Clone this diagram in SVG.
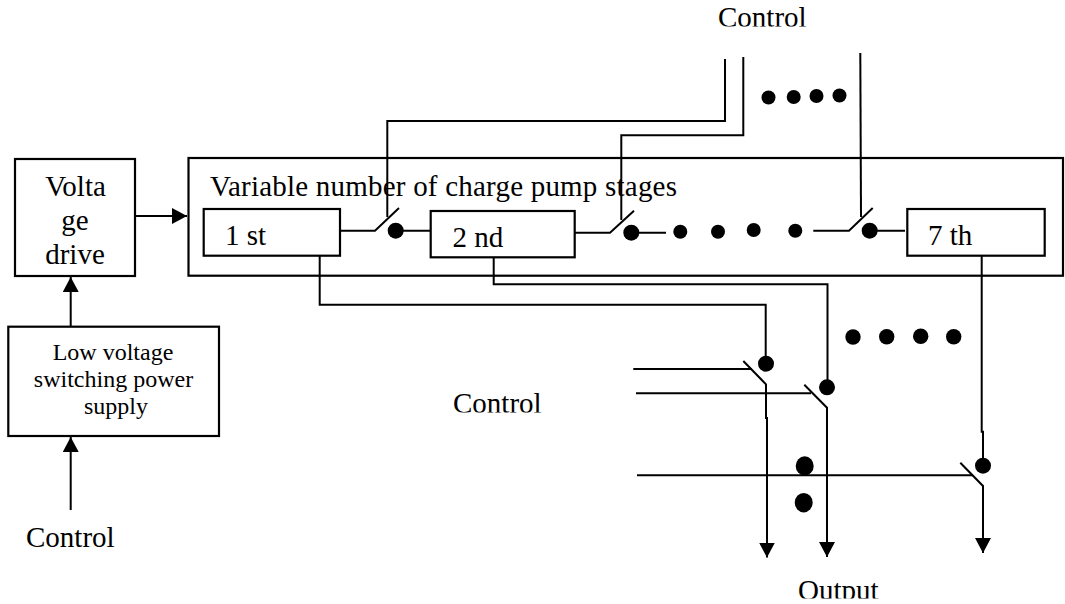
<svg xmlns="http://www.w3.org/2000/svg" width="1065" height="604" viewBox="0 0 1065 604">
<defs>
<marker id="a" markerUnits="userSpaceOnUse" markerWidth="16" markerHeight="16" refX="15" refY="8" orient="auto"><path d="M0 0L15 8L0 16Z" fill="#000"/></marker>
<clipPath id="c1"><rect x="700" y="0" width="130" height="26.5"/></clipPath>
<clipPath id="c2"><rect x="440" y="380" width="130" height="32.5"/></clipPath>
<clipPath id="c3"><rect x="790" y="570" width="100" height="28.5"/></clipPath>
</defs>
<style>
.b{fill:none;stroke:#000;stroke-width:2.2}
.l{fill:none;stroke:#000;stroke-width:2}
.d{fill:#000}
text{font-family:"Liberation Serif","Times New Roman",serif;fill:#000}
.t{font-size:29px}
.s{font-size:24px}
</style>
<rect width="1065" height="604" fill="#fff"/>
<g id="stages-box"><rect class="b" x="188.5" y="158" width="874.5" height="117.7"/><text class="t" x="210" y="196" textLength="467">Variable number of charge pump stages</text></g>
<g id="stage-1"><rect class="b" x="203.7" y="209" width="136.3" height="46.7"/><text class="t" x="225" y="244.500">1 st</text></g>
<g id="stage-2"><rect class="b" x="430.7" y="211" width="144" height="46.3"/><text class="t" x="452.5" y="246.5">2 nd</text></g>
<g id="stage-7"><rect class="b" x="907.3" y="209" width="137.4" height="46.7"/><text class="t" x="928" y="244.500">7 th</text></g>
<g id="voltage-drive"><rect class="b" x="15" y="159" width="120" height="117"/>
<text class="t" x="75.5" y="196" text-anchor="middle">Volta</text><text class="t" x="75" y="229.500" text-anchor="middle">ge</text><text class="t" x="75" y="264" text-anchor="middle">drive</text></g>
<g id="power-supply"><rect class="b" x="8.3" y="326.7" width="210.7" height="109.3"/>
<text class="s" x="113" y="359.500" text-anchor="middle">Low voltage</text><text class="s" x="113.500" y="387" text-anchor="middle">switching power</text><text class="s" x="116" y="414" text-anchor="middle">supply</text></g>
<g id="labels">
<text class="t" x="718" y="27" clip-path="url(#c1)">Control</text>
<text class="t" x="453" y="413" clip-path="url(#c2)">Control</text>
<text class="t" x="26" y="546.500">Control</text>
<text class="t" x="798" y="600" clip-path="url(#c3)">Output</text>
</g>
<g id="connectors">
<path class="l" d="M135 216H187" marker-end="url(#a)"/>
<path class="l" d="M70.7 326V277" marker-end="url(#a)"/>
<path class="l" d="M70.7 510V437" marker-end="url(#a)"/>
<path class="l" d="M725 59V121H387.3V217"/>
<path class="l" d="M743.3 57V135.3H621.3V220"/>
<path class="l" d="M860.3 53L861 217"/>
<path class="l" d="M340 230.700H375L399 208"/>
<path class="l" d="M396 230.700H430.700"/>
<path class="l" d="M574.700 232.700H610L634 210.700"/>
<path class="l" d="M631 232.700H666"/>
<path class="l" d="M813.3 230.700H849L872.700 208"/>
<path class="l" d="M870 230.700H905"/>
<path class="l" d="M319.700 255.700V304.700H765.700V364"/>
<path class="l" d="M493.700 257V284.300H827.500V387"/>
<path class="l" d="M981.700 255.700V431.700H983V466"/>
<path class="l" d="M633.300 369H752"/>
<path class="l" d="M636 393.300H811"/>
<path class="l" d="M637 475.300H973"/>
<path class="l" d="M743.300 361L766 384.300V418H767V557.500" marker-end="url(#a)"/>
<path class="l" d="M804.300 384.700L827 407.700V557" marker-end="url(#a)"/>
<path class="l" d="M960.300 462.700L983 486V553" marker-end="url(#a)"/>
</g>
<g id="dots">
<circle class="d" cx="395.700" cy="230.700" r="8"/><circle class="d" cx="631.300" cy="232.700" r="8"/><circle class="d" cx="869.700" cy="230.700" r="8"/>
<circle class="d" cx="680.300" cy="231.700" r="7"/><circle class="d" cx="718" cy="231.700" r="7"/><circle class="d" cx="753.700" cy="230" r="7"/><circle class="d" cx="795.300" cy="230.700" r="7"/>
<circle class="d" cx="768.500" cy="97.500" r="7"/><circle class="d" cx="793.700" cy="97" r="7"/><circle class="d" cx="816.500" cy="96" r="7"/><circle class="d" cx="839.500" cy="95.500" r="7"/>
<circle class="d" cx="766" cy="363.700" r="8"/><circle class="d" cx="827" cy="387.300" r="8"/><circle class="d" cx="983" cy="465.700" r="8"/>
<circle class="d" cx="853" cy="337" r="7.700"/><circle class="d" cx="886.700" cy="336.700" r="7.700"/><circle class="d" cx="920.700" cy="336.300" r="7.700"/><circle class="d" cx="953.700" cy="336.700" r="7.700"/>
<ellipse class="d" cx="804.700" cy="466" rx="9" ry="9.700"/><ellipse class="d" cx="803.700" cy="502.700" rx="9" ry="9.700"/>
</g>
</svg>
